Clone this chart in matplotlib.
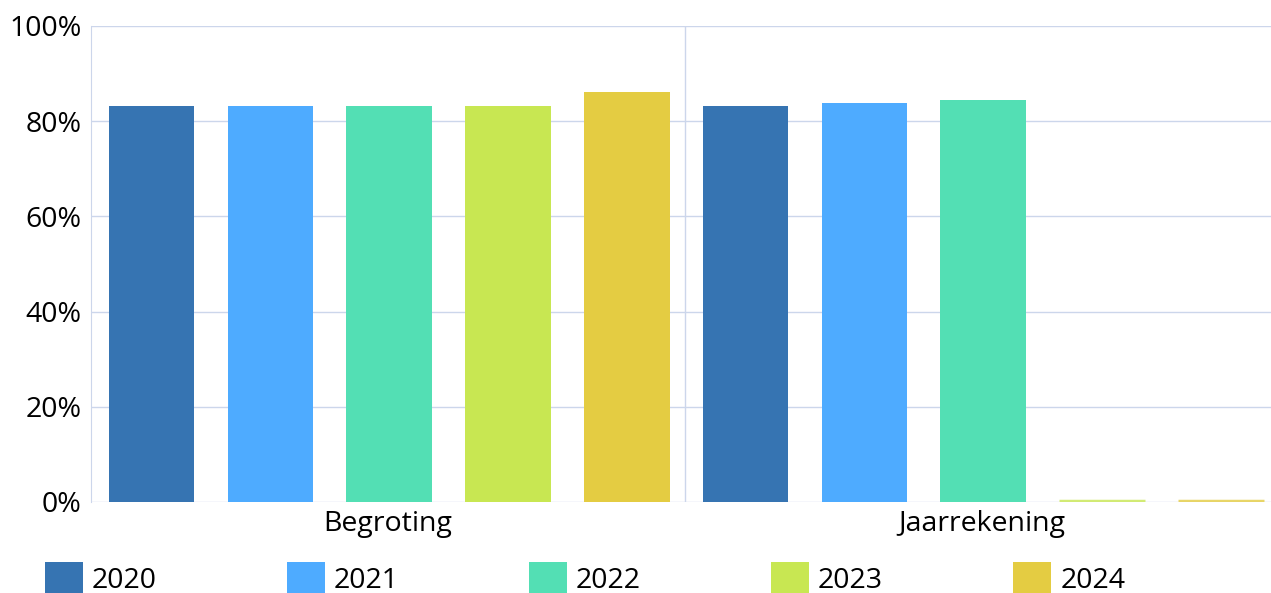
import numpy as np
import matplotlib.pyplot as plt
from matplotlib.ticker import PercentFormatter

plt.rcParams['font.family'] = ['Open Sans', 'DejaVu Sans']

categories = ['Begroting', 'Jaarrekening']
years = ['2020', '2021', '2022', '2023', '2024']
values = {
    '2020': [83.2, 83.2],
    '2021': [83.2, 83.8],
    '2022': [83.2, 84.5],
    '2023': [83.2, 0],
    '2024': [86.1, 0],
}
colors = ['#3674b2', '#4eabff', '#53dfb4', '#c8e752', '#e4cc42']
grid_c = '#ccd6eb'

fig = plt.figure(figsize=(12.71, 5.93), dpi=100)
ax = fig.add_axes([0.0716, 0.1535, 0.9347, 0.8027])

x = np.arange(len(categories))
slot = 0.2
w = slot * 0.72
for i, y in enumerate(years):
    pos = x - 0.4 + i * slot
    vals = values[y]
    ax.bar(pos + 0.002, vals, w, color=colors[i], zorder=3, label=y)
    # zero values still show a thin line on the axis
    for p, v in zip(pos + 0.002, vals):
        if v == 0:
            ax.plot([p - w / 2, p + w / 2], [0.15, 0.15], color=colors[i],
                    lw=2.5, alpha=0.8, zorder=3, solid_capstyle='butt')

ax.set_xlim(-0.5, 1.5)
ax.set_ylim(0, 100)
ax.set_yticks([0, 20, 40, 60, 80, 100])
ax.yaxis.set_major_formatter(PercentFormatter(decimals=0))
ax.set_xticks(x)
ax.set_xticklabels(categories)
ax.tick_params(axis='both', length=0, labelsize=20.5)
ax.tick_params(axis='x', pad=6)
ax.tick_params(axis='y', pad=7)
ax.grid(axis='y', color=grid_c, lw=1, zorder=0)
ax.axvline(0.5, color=grid_c, lw=1, zorder=1)
for s in ['top', 'right', 'bottom']:
    ax.spines[s].set_visible(False)
ax.spines['left'].set_color(grid_c)

leg = fig.legend(loc='lower left', bbox_to_anchor=(0.0262, -0.022, 0.868, 0.08),
                 mode='expand', ncol=5, frameon=False, fontsize=20.5,
                 handlelength=1.33, handleheight=1.33, handletextpad=0.33,
                 borderaxespad=0)

fig.savefig('out.png', dpi=100)
